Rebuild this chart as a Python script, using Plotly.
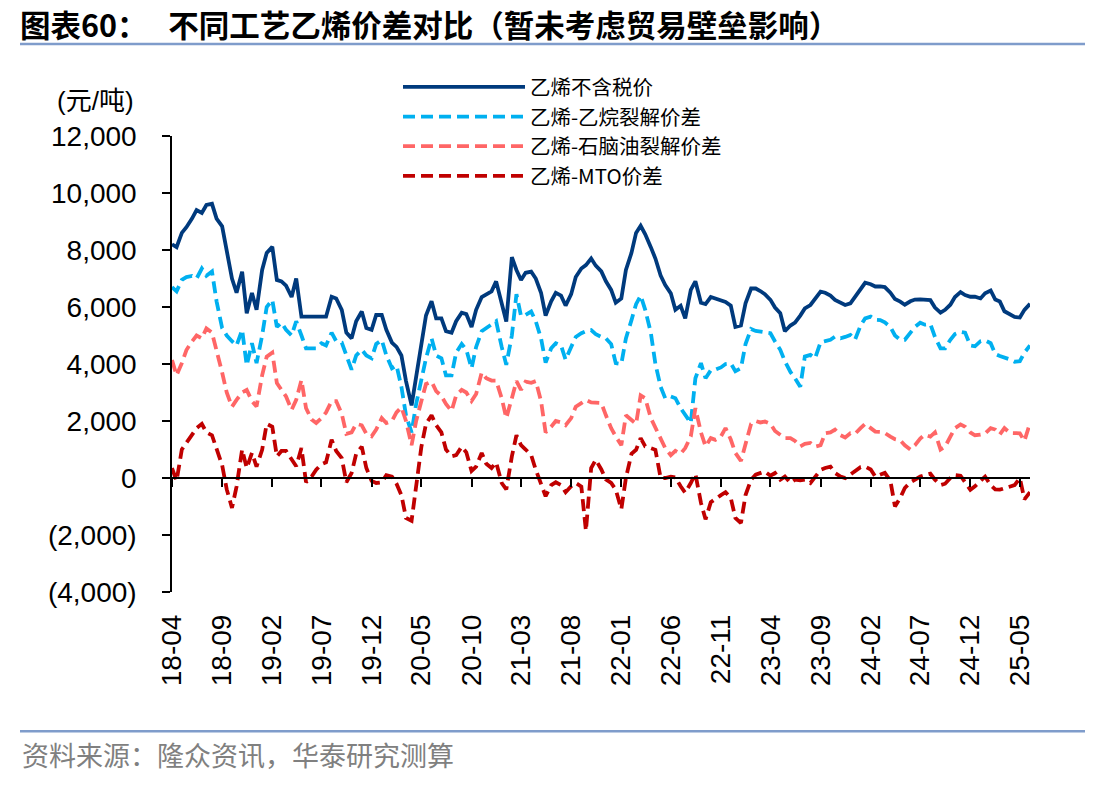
import pandas as pd
import plotly.graph_objects as go

# ---------------- data (semi-monthly readings, 2018-04-01 .. 2025-06-01) ----------------
dates = pd.date_range("2018-04-01", "2025-06-01", freq="SMS")

ethylene_price = [  # 乙烯不含税价
    8200, 8100, 8600, 8800, 9100, 9400, 9300, 9580, 9620, 9100,
    8830, 7900, 7000, 6500, 7240, 5780, 6490, 5900, 7300, 7900,
    8110, 6950, 6900, 6750, 6350, 7000, 5660, 5660, 5660, 5660,
    5660, 5660, 6360, 6300, 5900, 5100, 4900, 5500, 5840, 5260,
    5200, 5720, 5720, 5200, 4750, 4600, 4300, 3400, 2550, 3600,
    4800, 5700, 6200, 5600, 5600, 5150, 5100, 5500, 5800, 5750,
    5300, 5900, 6350, 6450, 6550, 6900, 6100, 5490, 7750, 7300,
    6950, 7200, 7240, 7000, 6500, 5700, 6200, 6500, 6400, 6050,
    6450, 7050, 7350, 7470, 7700, 7450, 7250, 6900, 6600, 6150,
    6300, 7300, 7900, 8600, 8850, 8550, 8100, 7700, 7100, 6770,
    6480, 5900, 6040, 5600, 6600, 6900, 6150, 6100, 6350, 6300,
    6250, 6180, 6050, 5300, 5350, 6130, 6650, 6650, 6560, 6450,
    6250, 5980, 5780, 5150, 5350, 5450, 5700, 5950, 6070, 6300,
    6540, 6500, 6400, 6250, 6150, 6070, 6130, 6350, 6650, 6850,
    6800, 6720, 6720, 6700, 6500, 6280, 6190, 6080, 6200, 6260,
    6270, 6270, 6240, 5980, 5800, 5900, 6080, 6350, 6520, 6420,
    6360, 6360, 6300, 6480, 6580, 6260, 6190, 5850, 5760, 5650,
    5630, 5900, 6110,
]

ethane_spread = [  # 乙烯-乙烷裂解价差
    6700, 6550, 6950, 7050, 7090, 7000, 7350, 7100, 7250, 6200,
    5260, 5000, 4800, 4650, 5200, 3950, 4730, 4030, 5000, 6000,
    6250, 5300, 5450, 5200, 5000, 5500, 5000, 4550, 4550, 4550,
    4730, 4650, 5100, 4800, 4750, 4300, 3800, 4300, 4500, 4300,
    4200, 4700, 4840, 4300, 3850, 3950, 3200, 2200, 1600, 2600,
    3500, 4200, 4900, 4300, 4200, 3600, 3600, 4400, 4700, 4500,
    3850, 4600, 5150, 5250, 5380, 5500, 4600, 3970, 5000, 6450,
    5680, 5720, 5840, 5500, 4900, 4050, 4550, 4730, 4650, 4150,
    4600, 4950, 5080, 5150, 5190, 5050, 4950, 4900, 4700, 4030,
    4000, 4900, 5540, 6100, 6400, 5900, 5100, 4000, 3200, 2800,
    2860, 2800, 2450, 2200, 1930, 3500, 4030, 3500, 3780, 3800,
    3880, 4000, 4020, 3750, 3850, 4700, 5230, 5160, 5130, 5120,
    5080, 4790, 4500, 4100, 3720, 3500, 3200, 4260, 4320, 4200,
    4760, 4800, 4850, 4960, 4900, 4950, 5020, 4850, 5350, 5600,
    5660, 5550, 5540, 5460, 5300, 5000, 4850, 4850, 5120, 5300,
    5450, 5380, 5400, 4950, 4550, 4550, 4850, 5050, 5130, 5100,
    4650, 4620, 4800, 4830, 4730, 4350, 4280, 4230, 4160, 4080,
    4100, 4400, 4650,
]

naphtha_spread = [  # 乙烯-石脑油裂解价差
    4140, 3600, 4030, 4490, 4790, 5000, 4900, 5250, 5100, 4500,
    3700, 3000, 2500, 2740, 3000, 3090, 2700, 2510, 3600, 4260,
    4400, 3330, 3090, 2860, 2390, 2740, 3440, 2450, 2050, 1930,
    2100, 2300, 2700, 2700, 2250, 1550, 1600, 1900, 1850, 1550,
    1460, 1700, 2100, 1930, 2000, 2300, 2480, 2000, 1150, 2000,
    2700, 3300, 3380, 3050, 2880, 2600, 2350, 2900, 3090, 3000,
    2700, 2950, 3700, 3500, 3420, 3420, 2800, 2100, 2800, 3400,
    3090, 3380, 3340, 3400, 2700, 1600, 1800, 2000, 1950, 1850,
    2100, 2500, 2630, 2740, 2650, 2640, 2630, 2200, 1750, 1460,
    1150, 2200, 2040, 1900, 2900, 2800, 2100, 1750, 1350, 1050,
    800, 950, 850, 1050, 1460, 2450, 1600, 1110, 1400, 1340,
    1460, 1750, 1350, 880, 600, 1200, 1900, 2000, 1950, 1980,
    1900, 1650, 1500, 1400, 1400, 1300, 1110, 1200, 1230, 1100,
    1150, 1570, 1600, 1700, 1500, 1420, 1570, 1550, 1750, 1900,
    1750, 1630, 1620, 1580, 1450, 1360, 1320, 1150, 1000, 1150,
    1380, 1520, 1450, 1600, 1000, 1100, 1450, 1750, 1880, 1800,
    1600, 1500, 1520, 1560, 1750, 1700, 1530, 1750, 1580, 1570,
    1570, 1300, 1930,
]

mto_spread = [  # 乙烯-MTO价差
    350, -100, 1000, 1250, 1550, 1750, 1900, 1600, 1500, 1000,
    450, -400, -1050, -300, 1000, 350, 880, 400, 990, 1900,
    1800, 760, 950, 950, 650, 410, 1050, -150, 50, 290,
    480, 550, 1340, 950, 700, -150, 175, 850, 1100, 350,
    -100, -175, -150, 100, 50, -200, -600, -1400, -1500, -200,
    1100, 1900, 2200, 1850, 1600, 1000, 760, 800, 1100, 900,
    250, 400, 880, 500, 350, 550, -175, -400, 760, 1500,
    1150, 1000, 800, 290, -250, -640, -250, -150, -250, -500,
    -290, -175, -300, -1850, 350, 640, 300, -50, -175, -410,
    -1100, 0, 850, 990, 1400, 1110, 1050, 990, 0, 0,
    50, 20, -290, -520, -175, 150, -875, -1450, -850, -720,
    -600, -500, -700, -1400, -1580, -600, -60, 115, 175, 230,
    80, 175, -60, 50, -175, -60, -80, -60, -175, 50,
    280, 350, 400, 175, 50, -5, 115, 230, 380, 400,
    300, 50, 100, 180, -100, -1000, -700, -350, -150, -50,
    50, 100, 150, -60, -250, -200, 0, 100, 80, -150,
    -410, -290, -100, 50, -250, -400, -410, -350, -290, -250,
    -5, -750, -500,
]

series_names = ["乙烯不含税价", "乙烯-乙烷裂解价差", "乙烯-石脑油裂解价差", "乙烯-MTO价差"]
y_tick_vals = [12000, 10000, 8000, 6000, 4000, 2000, 0, -2000, -4000]
y_tick_text = ["12,000", "10,000", "8,000", "6,000", "4,000", "2,000", "0", "(2,000)", "(4,000)"]

title_text = "图表60：\u00a0\u00a0\u00a0不同工艺乙烯价差对比（暂未考虑贸易壁垒影响）"
source_text = "资料来源：隆众资讯，华泰研究测算"
unit_text = "(元/吨)"

# ---------------- layout geometry ----------------
W, H = 1113, 787
L, R, T, B = 172, 83, 136, 194.5
PW, PH = W - L - R, H - T - B


def px_x(px):
    return (px - L) / PW


def px_y(py):
    return (H - B - py) / PH


LATIN = "Liberation Sans, Arial, sans-serif"
CJK = "Noto Sans CJK SC, sans-serif"

fig = go.Figure()
styles = [
    dict(color="#003A7D", width=3.8, dash="solid"),
    dict(color="#00B0F0", width=3.8, dash="12px,6px"),
    dict(color="#FF6666", width=3.8, dash="12px,6px"),
    dict(color="#C00000", width=3.8, dash="12px,6px"),
]
for name, vals, st in zip(series_names,
                          [ethylene_price, ethane_spread, naphtha_spread, mto_spread],
                          styles):
    fig.add_trace(go.Scatter(x=dates, y=vals, name=name, mode="lines", line=st))

# invisible trace to activate the zero-line axis with tick marks
fig.add_trace(go.Scatter(x=[dates[0]], y=[None], xaxis="x2", showlegend=False,
                         hoverinfo="skip", mode="lines"))

x_range = [dates[0].strftime("%Y-%m-%d"), dates[-1].strftime("%Y-%m-%d")]

fig.update_layout(
    width=W, height=H,
    margin=dict(l=L, r=R, t=T, b=B, pad=0),
    paper_bgcolor="white", plot_bgcolor="white",
    showlegend=True,
    legend=dict(
        x=px_x(398), y=px_y(67), xanchor="left", yanchor="top",
        font=dict(family=CJK, size=20.5, color="#000000"),
        itemwidth=122, bgcolor="rgba(0,0,0,0)", borderwidth=0,
        traceorder="normal",
    ),
    title=dict(
        text=title_text, x=20 / W, xanchor="left", y=1 - 26 / H, yanchor="middle",
        font=dict(family=CJK, size=30.5, color="#000000", weight="bold"),
    ),
    xaxis=dict(
        type="date", range=x_range, showline=False, showgrid=False, zeroline=False,
        ticks="", tick0="2018-04-01", dtick="M5", tickformat="%y-%m",
        tickangle=-90, ticklabelstandoff=16,
        tickfont=dict(family=LATIN, size=28, color="#000000"),
    ),
    xaxis2=dict(
        type="date", range=x_range, overlaying="x", anchor="free", position=0.25,
        side="bottom", showline=True, linecolor="#000000", linewidth=1.5,
        ticks="outside", ticklen=8, tickwidth=1.5, tickcolor="#000000",
        tick0="2018-04-01", dtick="M5", showticklabels=False,
        showgrid=False, zeroline=False,
    ),
    yaxis=dict(
        range=[-4000, 12000], tickvals=y_tick_vals, ticktext=y_tick_text,
        showline=True, linecolor="#000000", linewidth=1.5,
        ticks="outside", ticklen=8, tickwidth=1.5, tickcolor="#000000",
        showgrid=False, zeroline=False, ticklabelstandoff=20,
        tickfont=dict(family=LATIN, size=28, color="#000000"),
    ),
    annotations=[
        dict(text=unit_text, xref="paper", yref="paper", x=px_x(55), y=px_y(101),
             xanchor="left", yanchor="middle", showarrow=False,
             font=dict(family="Liberation Sans, Noto Sans CJK SC", size=26, color="#000000")),
        dict(text=source_text, xref="paper", yref="paper", x=px_x(20), y=px_y(755),
             xanchor="left", yanchor="middle", showarrow=False,
             font=dict(family=CJK, size=27, color="#808080")),
    ],
    shapes=[
        dict(type="line", xref="paper", yref="paper", x0=px_x(20), x1=px_x(1085),
             y0=px_y(44), y1=px_y(44), line=dict(color="#7F9CCB", width=2.5)),
        dict(type="line", xref="paper", yref="paper", x0=px_x(20), x1=px_x(1085),
             y0=px_y(732), y1=px_y(732), line=dict(color="#7F9CCB", width=2.5)),
    ],
)

fig.write_html("out.html")
